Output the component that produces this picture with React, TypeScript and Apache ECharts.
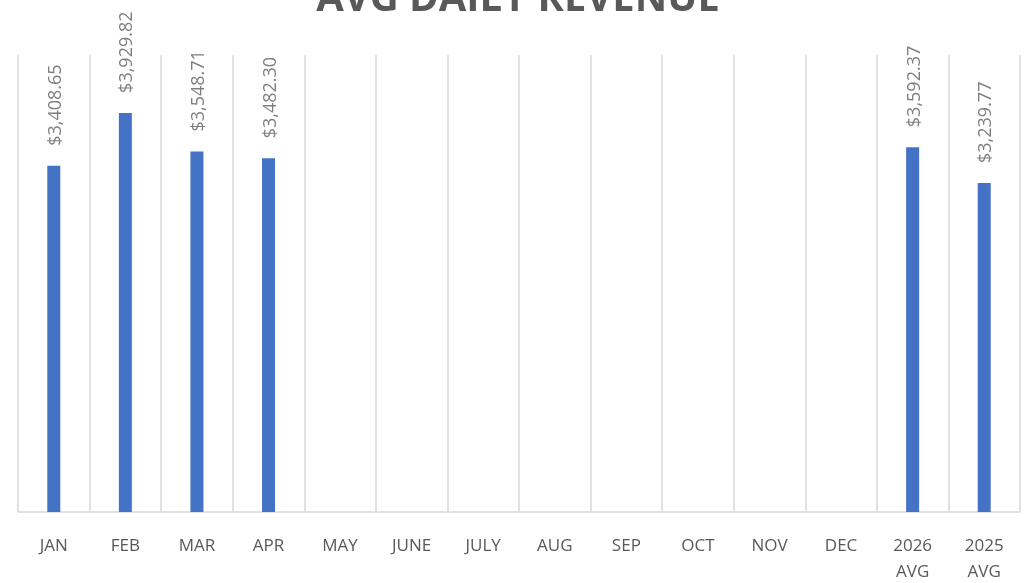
import React, { useEffect, useRef } from "react";
import * as echarts from "echarts";

const categories = ["JAN", "FEB", "MAR", "APR", "MAY", "JUNE", "JULY", "AUG", "SEP", "OCT", "NOV", "DEC", "2026\nAVG", "2025\nAVG"];
const values: (number | null)[] = [3408.65, 3929.82, 3548.71, 3482.3, null, null, null, null, null, null, null, null, 3592.37, 3239.77];
const titleText = "AVG DAILY REVENUE";

const fmt = (v: number) =>
  "$" + v.toLocaleString("en-US", { minimumFractionDigits: 2, maximumFractionDigits: 2 });

export default function App() {
  const ref = useRef<HTMLDivElement>(null);
  useEffect(() => {
    const chart = echarts.init(ref.current!, null, { renderer: "svg" });
    chart.setOption({
      animation: false,
      graphic: [
        {
          type: "text",
          left: "center",
          top: -25,
          style: {
            text: titleText,
            fontSize: 40,
            fontWeight: "bold",
            fill: "#595959",
            fontFamily: "Open Sans",
          },
        },
      ],
      grid: { left: 18, right: 16, top: 55, bottom: 67, containLabel: false },
      xAxis: {
        type: "category",
        data: categories,
        axisLine: { show: true, lineStyle: { color: "#d9d9d9", width: 1.5 } },
        axisTick: { show: false },
        splitLine: { show: true, lineStyle: { color: "#d9d9d9", width: 1.5 } },
        axisLabel: {
          color: "#595959",
          fontSize: 17,
          fontFamily: "Open Sans",
          margin: 19,
          lineHeight: 26,
          interval: 0,
        },
      },
      yAxis: {
        type: "value",
        min: 0,
        max: 4500,
        show: false,
        splitLine: { show: false },
      },
      series: [
        {
          type: "bar",
          data: values,
          barWidth: 13,
          itemStyle: { color: "#4472C4" },
          label: {
            show: true,
            position: "top",
            rotate: 90,
            align: "left",
            verticalAlign: "middle",
            distance: 20,
            color: "#7f7f7f",
            fontSize: 18,
            fontFamily: "Open Sans",
            formatter: (p: any) => (p.value == null ? "" : fmt(p.value)),
          },
        },
      ],
    });
    return () => chart.dispose();
  }, []);
  return <div ref={ref} style={{ position: "fixed", left: 0, top: 0, width: 1036, height: 583 }} />;
}
